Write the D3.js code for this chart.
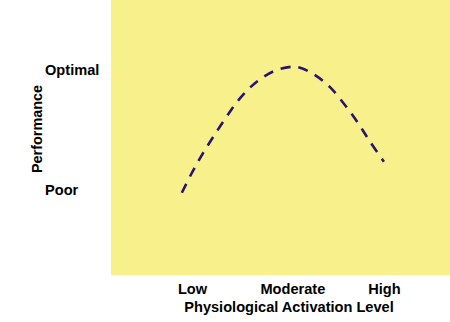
<!DOCTYPE html>
<html><head><meta charset="utf-8">
<script src="https://cdn.jsdelivr.net/npm/d3@7"></script>
<style>html,body{margin:0;padding:0;background:#fff;}svg{display:block;}</style>
</head><body>
<script>
// Data (arbitrary 0-10 units)
const curveX = [2.09, 2.38, 2.68, 3.02, 3.41, 3.81, 4.30, 4.84, 5.33, 5.58, 6.02, 6.46, 6.90, 7.29, 7.64, 8.05];
const curveY = [2.99, 3.70, 4.36, 5.03, 5.76, 6.43, 7.03, 7.43, 7.57, 7.54, 7.27, 6.83, 6.18, 5.52, 4.85, 4.12];
const xTickLabels = ["Low", "Moderate", "High"];
const xTickValues = [2.39, 5.35, 8.05];
const yTickLabels = ["Poor", "Optimal"];
const yTickValues = [3.13, 7.49];
const xTitle = "Physiological Activation Level";
const yTitle = "Performance";

const W = 450, H = 322;
const plot = {left: 111, top: 0, right: 450, bottom: 275};
const svg = d3.select("body").append("svg").attr("width", W).attr("height", H);

const x = d3.scaleLinear().domain([0, 10]).range([plot.left, plot.right]);
const y = d3.scaleLinear().domain([0, 10]).range([plot.bottom, plot.top]);

svg.append("rect").attr("x", plot.left).attr("y", plot.top)
  .attr("width", plot.right - plot.left).attr("height", plot.bottom - plot.top)
  .attr("fill", "#f8f08a");

const font = "'Liberation Sans', Arial, sans-serif";

const xAxis = d3.axisBottom(x).tickValues(xTickValues)
  .tickFormat((d, i) => xTickLabels[i]).tickSize(0).tickPadding(0);
const gx = svg.append("g").attr("transform", `translate(0,${plot.bottom})`).call(xAxis);
gx.select(".domain").remove();
gx.selectAll("text").attr("dy", null).attr("y", 18.5)
  .attr("font-family", font).attr("font-size", 14.6).attr("font-weight", "bold").attr("fill", "#000");

const yAxis = d3.axisLeft(y).tickValues(yTickValues)
  .tickFormat((d, i) => yTickLabels[i]).tickSize(0).tickPadding(0);
const gy = svg.append("g").attr("transform", `translate(45,0)`).call(yAxis);
gy.select(".domain").remove();
gy.selectAll("text").attr("x", 0).attr("text-anchor", "start").attr("dy", "0.35em")
  .attr("font-family", font).attr("font-size", 14.6).attr("font-weight", "bold").attr("fill", "#000");

svg.append("text").attr("x", 289).attr("y", 311.5).attr("text-anchor", "middle")
  .attr("font-family", font).attr("font-size", 14.6).attr("font-weight", "bold").text(xTitle);

svg.append("text").attr("transform", "translate(41.5,129) rotate(-90)").attr("text-anchor", "middle")
  .attr("font-family", font).attr("font-size", 14.4).attr("font-weight", "bold").text(yTitle);

const pts = curveX.map((v, i) => [v, curveY[i]]);
const line = d3.line().x(d => x(d[0])).y(d => y(d[1])).curve(d3.curveCatmullRom);
svg.append("path").attr("d", line(pts)).attr("fill", "none")
  .attr("stroke", "#2b1470").attr("stroke-width", 2.6).attr("stroke-dasharray", "10,8");
</script>
</body></html>
